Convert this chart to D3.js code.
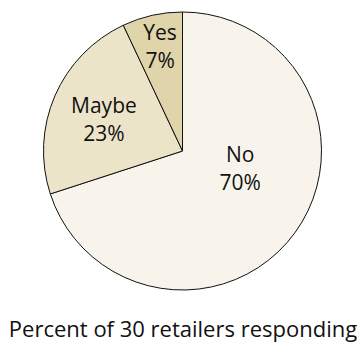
<!DOCTYPE html>
<html>
<head>
<meta charset="utf-8">
<script src="https://cdn.jsdelivr.net/npm/d3@7"></script>
<style>
  body { margin: 0; background: #fff; }
  text { font-family: "Open Sans", "Noto Sans", sans-serif; fill: #111; }
</style>
</head>
<body>
<script>
const width = 357;
const height = 344;

// data (percent of 30 retailers)
const categories = ["No", "Maybe", "Yes"];
const percents = [70, 23, 7];
const caption = "Percent of 30 retailers responding";

const colors = d3.scaleOrdinal()
  .domain(categories)
  .range(["#f8f4ec", "#ece4c9", "#dfd4aa"]);

// label placement: distance from centre and small angle nudge (degrees)
const labelLayout = {
  No: { r: 60, nudge: -20 },
  Maybe: { r: 85, nudge: -1 },
  Yes: { r: 107, nudge: 0.5 }
};

const cx = 182.5;
const cy = 151;
const radius = 139;

const svg = d3.select("body")
  .append("svg")
  .attr("width", width)
  .attr("height", height);

const pie = d3.pie().sort(null).value(d => d.value);
const arcs = pie(categories.map((c, i) => ({ name: c, value: percents[i] })));
const arc = d3.arc().innerRadius(0).outerRadius(radius);

const g = svg.append("g").attr("transform", `translate(${cx},${cy})`);

g.selectAll("path")
  .data(arcs)
  .enter()
  .append("path")
  .attr("d", arc)
  .attr("fill", d => colors(d.data.name))
  .attr("stroke", "#111")
  .attr("stroke-width", 1);

const label = g.selectAll(".label")
  .data(arcs)
  .enter()
  .append("text")
  .attr("class", "label")
  .attr("text-anchor", "middle")
  .style("font-size", "21px")
  .attr("transform", d => {
    const l = labelLayout[d.data.name];
    const a = (d.startAngle + d.endAngle) / 2 + l.nudge * Math.PI / 180;
    return `translate(${Math.sin(a) * l.r},${-Math.cos(a) * l.r})`;
  });

label.append("tspan")
  .attr("x", 0)
  .attr("y", -6)
  .text(d => d.data.name);

label.append("tspan")
  .attr("x", 0)
  .attr("y", 22)
  .text(d => `${d.data.value}%`);

svg.append("text")
  .attr("x", 183)
  .attr("y", 337)
  .attr("text-anchor", "middle")
  .style("font-size", "22px")
  .text(caption);
</script>
</body>
</html>
